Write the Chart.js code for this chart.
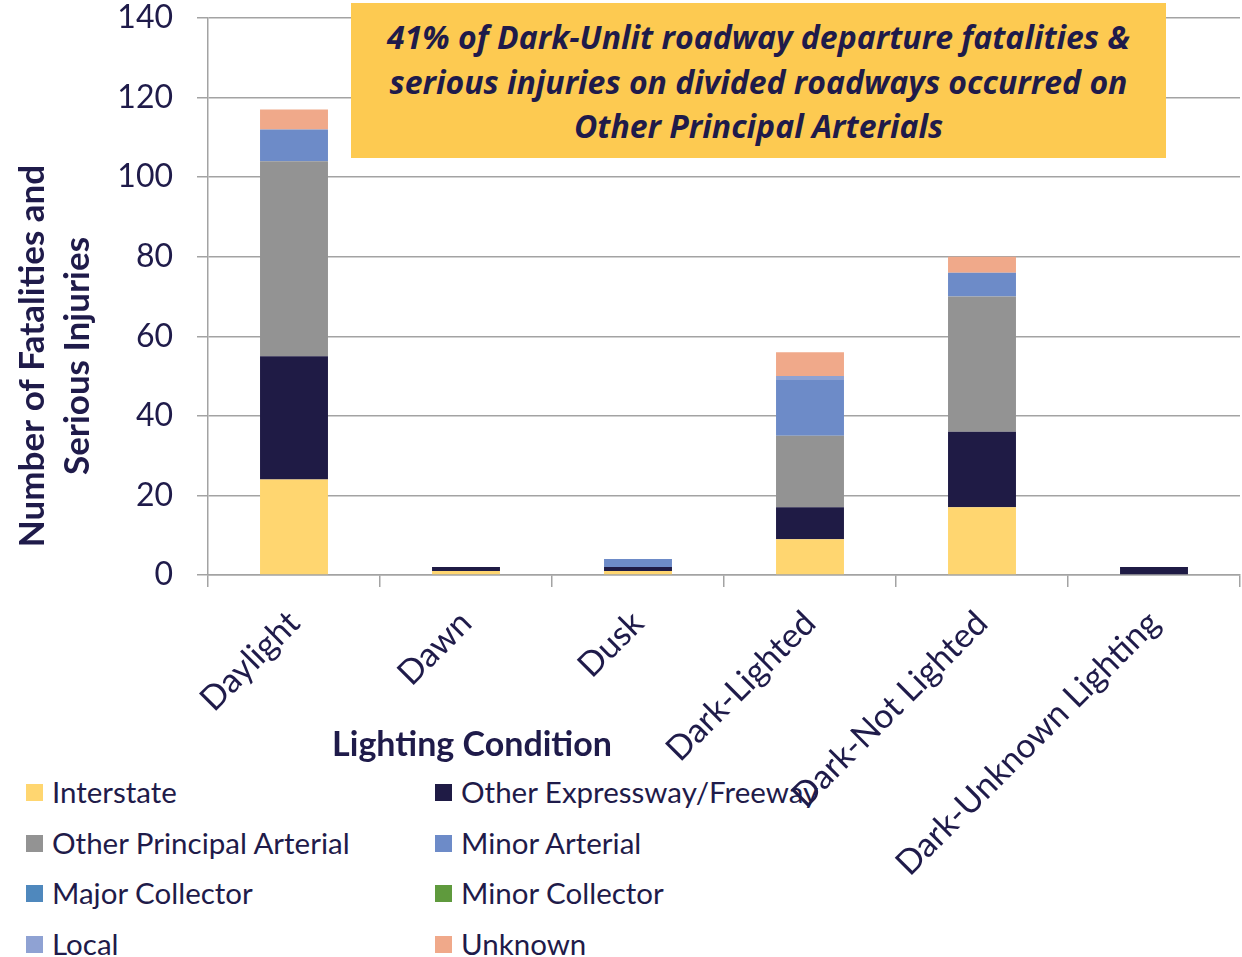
<!DOCTYPE html>
<html>
<head>
<meta charset="utf-8">
<script src="https://cdn.jsdelivr.net/npm/chart.js@4/dist/chart.umd.min.js"></script>
<style>
  body { margin: 0; background: #fff; }
  #wrap { position: relative; width: 1242px; height: 957px; font-family: Lato, sans-serif; color: #1f1b4a; }
  #chart { position: absolute; left: 0; top: 0; z-index: 2; }
  #note {
    position: absolute; left: 351px; top: 3px; width: 815px; height: 155px;
    background: #fdca51; z-index: 3; box-sizing: border-box; padding-top: 12px;
    text-align: center; font: italic bold 32px "Open Sans", sans-serif; line-height: 44.5px;
    white-space: nowrap;
  }
  #legend { position: absolute; left: 0; top: 0; z-index: 1; }
  .item { position: absolute; font-size: 29.5px; white-space: nowrap; line-height: 30px; }
  .item span.box { position: absolute; left: 0; top: 7px; width: 17px; height: 17px; }
  .item span.txt { position: absolute; left: 26px; top: 0; }
</style>
</head>
<body>
<div id="wrap">
  <div id="note">41% of Dark-Unlit roadway departure fatalities &amp;<br>serious injuries on divided roadways occurred on<br>Other Principal Arterials</div>
  <div id="legend"></div>
  <canvas id="chart" width="1242" height="957"></canvas>
</div>
<script>
var labels = ['Daylight', 'Dawn', 'Dusk', 'Dark-Lighted', 'Dark-Not Lighted', 'Dark-Unknown Lighting'];
var interstate        = [24, 1, 1, 9, 17, 0];
var otherExpressway   = [31, 1, 1, 8, 19, 2];
var principalArterial = [49, 0, 0, 18, 34, 0];
var minorArterial     = [8, 0, 2, 14, 6, 0];
var majorCollector    = [0, 0, 0, 0, 0, 0];
var minorCollector    = [0, 0, 0, 0, 0, 0];
var local             = [0, 0, 0, 1, 0, 0];
var unknown           = [5, 0, 0, 6, 4, 0];
var yTicks = [0, 20, 40, 60, 80, 100, 120, 140];

var textColor = '#1f1b4a';
var gridColor = '#a3a3a3';

function ds(label, data, color) {
	return { label: label, data: data, backgroundColor: color, borderWidth: 0, barPercentage: 0.395, categoryPercentage: 1 };
}

var datasets = [
	ds('Interstate', interstate, '#ffd670'),
	ds('Other Expressway/Freeway', otherExpressway, '#1f1b45'),
	ds('Other Principal Arterial', principalArterial, '#939393'),
	ds('Minor Arterial', minorArterial, '#6d8bc8'),
	ds('Major Collector', majorCollector, '#4f88bd'),
	ds('Minor Collector', minorCollector, '#5f9a3d'),
	ds('Local', local, '#8fa2d3'),
	ds('Unknown', unknown, '#f0a98a'),
];

// axis titles drawn at fixed spots like the original
var axisTitles = {
	id: 'axisTitles',
	afterDraw: function(chart) {
		var ctx = chart.ctx;
		ctx.save();
		ctx.fillStyle = textColor;
		ctx.textAlign = 'center';
		ctx.textBaseline = 'middle';
		ctx.font = 'bold 34px Lato';
		ctx.fillText('Lighting Condition', 472, 745);
		ctx.font = 'bold 35px Lato';
		ctx.translate(33, 356);
		ctx.rotate(-Math.PI / 2);
		ctx.fillText('Number of Fatalities and', 0, 0);
		ctx.fillText('Serious Injuries', 0, 45);
		ctx.restore();
	}
};

var chart = new Chart(document.getElementById('chart'), {
	type: 'bar',
	data: { labels: labels, datasets: datasets },
	options: {
		responsive: false,
		animation: false,
		layout: { padding: { top: 18, right: 2, left: 0, bottom: 0 } },
		plugins: { legend: { display: false }, tooltip: { enabled: false } },
		scales: {
			x: {
				stacked: true,
				grid: { display: true, offset: true, drawOnChartArea: false, color: gridColor, lineWidth: 1.5, tickLength: 12 },
				border: { color: gridColor, width: 1.5 },
				ticks: {
					color: textColor, font: { family: 'Lato', size: 34 },
					minRotation: 45, maxRotation: 45, autoSkip: false, padding: 16
				},
				afterFit: function(s) { s.height = 382; }
			},
			y: {
				stacked: true,
				min: 0, max: 140,
				afterBuildTicks: function(s) { s.ticks = yTicks.map(function(v) { return { value: v }; }); },
				grid: { color: gridColor, lineWidth: 1.5, tickLength: 11 },
				border: { color: gridColor, width: 1.5 },
				ticks: { color: textColor, font: { family: 'Lato', size: 32 }, padding: 24 },
				afterFit: function(s) { s.width = 208; s.paddingTop = 0; }
			}
		}
	},
	plugins: [axisTitles]
});

// legend in two columns, built from the datasets
var legend = document.getElementById('legend');
datasets.forEach(function(d, i) {
	var col = i % 2, row = Math.floor(i / 2);
	var el = document.createElement('div');
	el.className = 'item';
	el.style.left = (col ? 435 : 26) + 'px';
	el.style.top = (777 + row * 50.7) + 'px';
	el.innerHTML = '<span class="box" style="background:' + d.backgroundColor + '"></span><span class="txt"></span>';
	el.querySelector('.txt').textContent = d.label;
	legend.appendChild(el);
});
</script>
</body>
</html>
